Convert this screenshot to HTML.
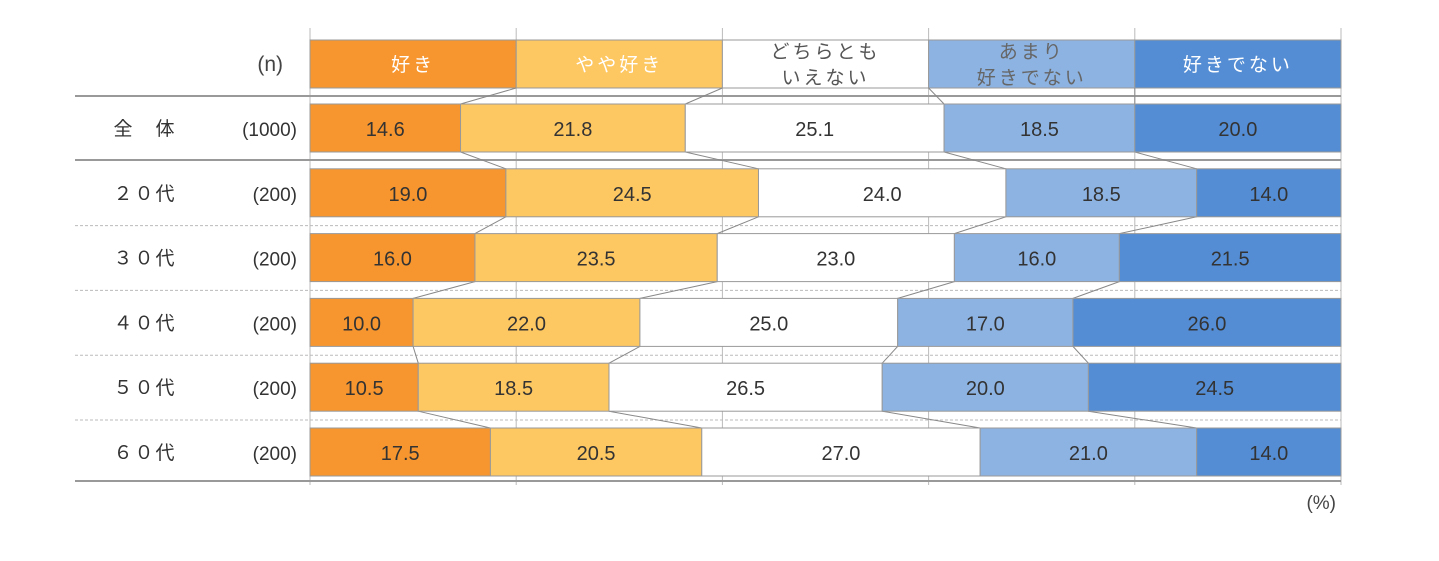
<!DOCTYPE html>
<html><head><meta charset="utf-8"><style>
body{margin:0;background:#fff;}
svg text{font-family:"Liberation Sans","Noto Sans CJK JP",sans-serif;}
</style></head><body>
<svg id="chart" width="1439" height="556"></svg>
<script>
const categories=["好き","やや好き","どちらとも\nいえない","あまり\n好きでない","好きでない"];
const rowLabels=["全　体","２０代","３０代","４０代","５０代","６０代"];
const nLabels=["(1000)","(200)","(200)","(200)","(200)","(200)"];
const s1=[14.6,19.0,16.0,10.0,10.5,17.5];
const s2=[21.8,24.5,23.5,22.0,18.5,20.5];
const s3=[25.1,24.0,23.0,25.0,26.5,27.0];
const s4=[18.5,18.5,16.0,17.0,20.0,21.0];
const s5=[20.0,14.0,21.5,26.0,24.5,14.0];
const series=[s1,s2,s3,s4,s5];
const colors=["#F7962F","#FDC762","#FFFFFF","#8DB3E2","#548DD4"];
const headerText=["#fff","#fff","#555","#666","#fff"];
const svg=document.getElementById('chart');
const NS="http://www.w3.org/2000/svg";
const X0=310,X1=1341;
const xs=v=>X0+(X1-X0)*v/100;
const rowTop=i=>104+i*64.8;
const BH=48;
function mk(t,a,p){const e=document.createElementNS(NS,t);for(const k in a)e.setAttribute(k,a[k]);(p||svg).appendChild(e);return e;}
for(let g=0;g<=5;g++){const l=mk('line',{x1:xs(g*20),x2:xs(g*20),y1:28,y2:485,stroke:'#bbb','stroke-width':1});

}
let l=mk('line',{x1:75,x2:X1,y1:96,y2:96,stroke:'#999','stroke-width':2});

l=mk('line',{x1:75,x2:X1,y1:160,y2:160,stroke:'#999','stroke-width':2});

for(let i=2;i<6;i++){const y=rowTop(i)-8;l=mk('line',{x1:75,x2:X1,y1:y,y2:y,stroke:'#bbb','stroke-width':1,'stroke-dasharray':'3,2'});
}
l=mk('line',{x1:75,x2:X1,y1:481,y2:481,stroke:'#999','stroke-width':2});

const hdr=mk('g',{});
categories.forEach((c,k)=>{
 const r=mk('rect',{x:xs(k*20),y:40,width:xs(20)-xs(0),height:48,fill:colors[k],stroke:'#999','stroke-width':1},hdr);
 
 const lines=c.split('\n');
 lines.forEach((t,j)=>{const tx=mk('text',{x:xs(k*20+10),y:64+(j-(lines.length-1)/2)*26+7,'text-anchor':'middle','font-size':19,fill:headerText[k],'letter-spacing':3},hdr);tx.textContent=t;
 });
});
const nh=mk('text',{x:283,y:71,'text-anchor':'end','font-size':21,fill:'#444'});nh.textContent='(n)';

const cums=series[0].map((_,i)=>{let c=0;return series.map(s=>c+=s[i]);});
function connect(prevB,prevY,cur,curY){for(let k=0;k<4;k++){const ln=mk('line',{x1:xs(prevB[k]),y1:prevY,x2:xs(cur[k]),y2:curY,stroke:'#888','stroke-width':1});
}}
connect([20,40,60,80],88,cums[0],rowTop(0));
for(let i=1;i<6;i++)connect(cums[i-1],rowTop(i-1)+BH,cums[i],rowTop(i));
rowLabels.forEach((lab,i)=>{
 const y=rowTop(i);
 const g=mk('g',{});
 let t=mk('text',{x:145,y:y+31,'text-anchor':'middle','font-size':19,fill:'#333','letter-spacing':2},g);t.textContent=lab;
 
 t=mk('text',{x:297,y:y+32,'text-anchor':'end','font-size':19,fill:'#333'},g);t.textContent=nLabels[i];
 
 let c=0;
 series.forEach((s,k)=>{
  const r=mk('rect',{x:xs(c),y:y,width:xs(c+s[i])-xs(c),height:BH,fill:colors[k],stroke:'#999','stroke-width':1},g);
  
  const tx=mk('text',{x:(xs(c)+xs(c+s[i]))/2,y:y+32,'text-anchor':'middle','font-size':20,fill:'#333'},g);tx.textContent=s[i].toFixed(1);
  
  c+=s[i];
 });
});
const pc=mk('text',{x:1336,y:509,'text-anchor':'end','font-size':19,fill:'#444'});pc.textContent='(%)';

</script>
</body></html>
